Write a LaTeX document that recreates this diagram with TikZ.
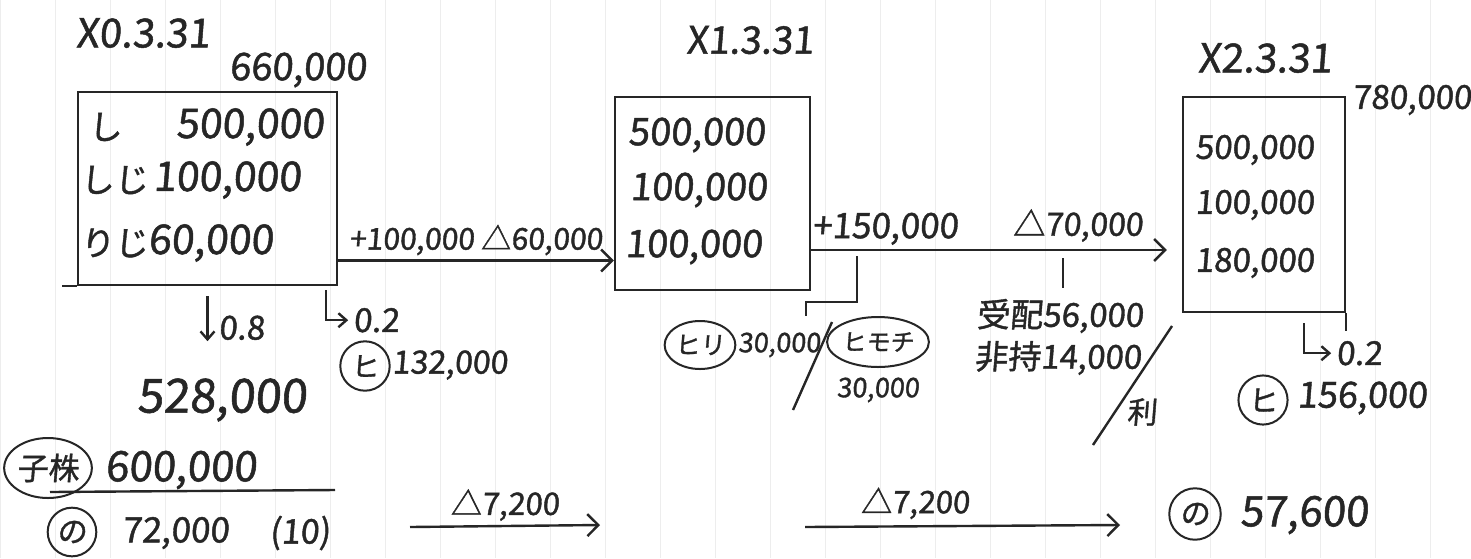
\documentclass[tikz,border=0pt]{standalone}
\usepackage{fontspec}
\setmainfont{Noto Sans CJK JP}
\newfontfamily\hand{Noto Sans CJK JP}[FakeSlant=0.08,FakeBold=1.2]
\usetikzlibrary{arrows.meta,calc,shapes.geometric}
\begin{document}
\begin{tikzpicture}[x=1pt,y=-1pt,
  ink/.style={draw=black!85, line width=2.4pt},
  hw/.style={font=\hand\fontsize{#1}{#1}\selectfont, inner sep=0pt, text=black!85},
  boxst/.style={ink, rectangle, inner sep=0pt},
  circ/.style={ink, circle, line width=2pt},
  ell/.style={ink, ellipse, line width=2pt},
  arr/.style={ink, -{Straight Barb[length=11pt,width=22pt]}},
  arrs/.style={ink, -{Straight Barb[length=8pt,width=14pt]}},
]
\fill[white] (0,0) rectangle (1471,558);
\useasboundingbox (0,0) rectangle (1471,558);
\draw[black!7, line width=0.6pt, step=55] (0,0) grid (1471,558);

% ---------- X0.3.31 ----------
\node[hw=40] (d0) at (143,33) {X0.3.31};
\node[hw=38] (v0) at (298,70) {660,000};
\node[boxst, minimum width=259pt, minimum height=193pt] (box1) at (207.5,188.5) {};
\draw[ink] (box1.south west) -- ++(-15,0);
\node[hw=34, anchor=west] (l1) at (88,127) {し};
\node[hw=41, anchor=west] (n1) at (176,127) {500,000};
\node[hw=34, anchor=west] (l2) at (80,180) {しじ};
\node[hw=41, anchor=west] (n2) at (153,180) {100,000};
\node[hw=34, anchor=west] (l3) at (80,243) {りじ};
\node[hw=41, anchor=west] (n3) at (148,243) {60,000};

\draw[arrs] ([yshift=-10pt]box1.south) -- ++(0,45)
  node[hw=33, anchor=south west, xshift=10pt] (r08) {0.8};
\draw[arrs] ([xshift=-12pt,yshift=-4pt]box1.south east) |- ++(22,30)
  node[hw=33, anchor=west, xshift=4pt] (r02a) {0.2};

\node[hw=47] (v528) at (222,400) {528,000};
\node[circ, hw=28, inner sep=5pt] (hi1) at (365,366) {ヒ};
\node[hw=32, anchor=west] (v132) at (392,365) {132,000};

\node[ell, hw=31, inner sep=0pt, minimum height=60pt] (kabu) at (48,468) {子株};
\node[hw=42, anchor=west] (v600) at (105,470) {600,000};
\draw[ink] (50,492) -- (335,490);
\node[circ, hw=30, inner sep=4pt] (no1) at (72,532) {の};
\node[hw=35, anchor=west] (v72) at (122,533) {72,000};
\node[hw=34] (y10) at (300,533) {(10)};
\coordinate (b1s) at (410,527);
\coordinate (b1e) at (600,525);
\draw[arr] (b1s) -- node[above=4pt, hw=31] (am1) {△7,200} (b1e);

% ---------- X1.3.31 ----------
\node[hw=38] (d1) at (750,40) {X1.3.31};
\node[boxst, minimum width=195pt, minimum height=193pt] (box2) at (712.5,193.5) {};
\node[hw=38, anchor=west] (m1) at (628,135) {500,000};
\node[hw=38, anchor=west] (m2) at (630,190) {100,000};
\node[hw=38, anchor=west] (m3) at (625,247) {100,000};

% ---------- X2.3.31 ----------
\node[hw=40] (d2) at (1265,58) {X2.3.31};
\node[hw=33] (v780) at (1412,100) {780,000};
\node[boxst, minimum width=162pt, minimum height=215pt] (box3) at (1264,204.5) {};
\draw[ink] (box3.south east) -- ++(0,18);
\node[hw=33, anchor=west] (k1) at (1195,150) {500,000};
\node[hw=33, anchor=west] (k2) at (1195,205) {100,000};
\node[hw=33, anchor=west] (k3) at (1195,263) {180,000};
\draw[arrs] ([xshift=-42pt,yshift=-10pt]box3.south east) |- ++(27,30)
  node[hw=33, anchor=west, xshift=4pt] (r02b) {0.2};
\node[circ, hw=30, inner sep=4pt] (hi2) at (1263,400) {ヒ};
\node[hw=36, anchor=west] (v156) at (1297,398) {156,000};
\node[circ, hw=30, inner sep=5pt] (no2) at (1195,514) {の};
\node[hw=42, anchor=west] (v576) at (1240,515) {57,600};

% ---------- connectors ----------
\draw[arr] ([yshift=-72pt]box1.east) --
  node[above=4pt, hw=30] (lab1) {+100,000 △60,000}
  ([yshift=-67pt]box2.west);
\draw[arr, shorten >=15pt] ([yshift=-56.5pt]box2.east) --
  node[pos=0.2, above=4pt, hw=35] (p150) {+150,000}
  node[pos=0.72, above=7pt, hw=32] (m70) {△70,000}
  ([yshift=-45.5pt]box3.west);
\coordinate (br1) at (857,256);
\draw[ink] (br1) |- (806,302) -- (806,316);
\coordinate (tk1) at (1063,258);
\draw[ink] (tk1) -- ++(0,30);

\node[ell, hw=25, inner sep=0pt, minimum height=48pt] (hiri) at (700,345) {ヒリ};
\node[hw=27, anchor=west] (v30a) at (738,345) {30,000};
\draw[ink] (832,322) -- (793,410);
\node[ell, hw=24, inner sep=0pt, minimum height=50pt] (himo) at (878,342) {ヒモチ};
\node[hw=27] (v30b) at (878,390) {30,000};

\node[hw=33] (juh) at (1060,316) {受配56,000};
\node[hw=33] (hij) at (1058,358) {非持14,000};
\draw[ink] (1172,326) -- (1093,445);
\node[hw=30] (ri) at (1142,412) {利};

\coordinate (b2s) at (805,527);
\coordinate (b2e) at (1120,525);
\draw[arr] (b2s) -- node[pos=0.35, above=6pt, hw=31] (am2) {△7,200} (b2e);
\end{tikzpicture}
\end{document}
